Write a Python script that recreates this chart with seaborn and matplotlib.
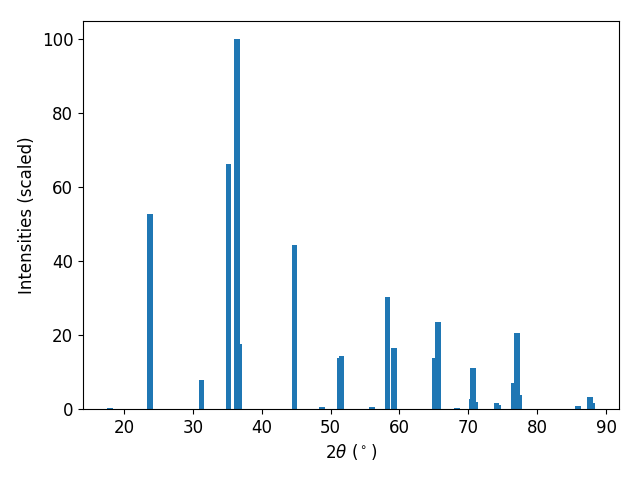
import matplotlib
matplotlib.use("Agg")
import matplotlib.pyplot as plt
import seaborn as sns

two_theta = [18.0, 23.8, 31.3, 35.2, 36.45, 36.75, 44.8, 48.8, 51.3, 51.6,
             56.0, 58.3, 59.2, 65.2, 65.6, 68.4, 70.55, 70.7, 70.95, 74.1,
             74.35, 76.6, 77.1, 77.45, 85.9, 87.7, 87.95]
intensity = [0.3, 52.8, 7.9, 66.4, 100.0, 17.6, 44.4, 0.5, 13.8, 14.4,
             0.5, 30.4, 16.5, 13.8, 23.6, 0.3, 2.7, 11.1, 1.9, 1.6,
             1.1, 7.0, 20.6, 3.8, 0.9, 3.2, 1.6]

plt.rcParams['font.size'] = 12
color = sns.color_palette("tab10")[0]

fig, ax = plt.subplots(figsize=(6.4, 4.8), dpi=100)
ax.bar(two_theta, intensity, width=0.8, color=color)
ax.set_xlabel(r"$2\theta$ ($^\circ$)")
ax.set_ylabel("Intensities (scaled)")
fig.subplots_adjust(left=83/640, right=619/640, bottom=1-409/480, top=1-21/480)
fig.savefig("out.png", dpi=100)
